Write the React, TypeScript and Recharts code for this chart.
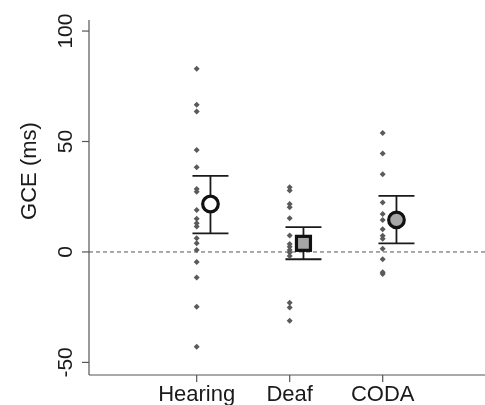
import {
  ScatterChart,
  Scatter,
  XAxis,
  YAxis,
  ReferenceLine,
  ErrorBar,
} from "recharts";

const categories = ["Hearing", "Deaf", "CODA"];

const hearingScores = [
  82.9, 66.6, 63.6, 46.2, 38.3, 28.5, 27.2, 19.0, 15.0, 13.0, 11.5, 6.2, 3.9,
  0.9, -4.6, -11.6, -24.8, -42.9,
];
const deafScores = [
  29.3, 27.8, 21.7, 20.2, 15.3, 7.4, 3.6, 2.4, 0.9, -0.3, -1.8, -23.0, -25.1,
  -31.1,
];
const codaScores = [
  53.8, 44.6, 35.2, 22.4, 17.2, 14.5, 10.3, 7.3, 6.0, 1.4, -3.3, -9.2, -10.0,
];

const means = [21.7, 3.9, 14.5];
const ciLow = [8.4, -3.3, 3.9];
const ciHigh = [34.4, 11.2, 25.4];

const yTicks = [-50, 0, 50, 100];

const MEAN_SHIFT = 0.148;
const FONT = "'Liberation Sans', Arial, sans-serif";

const allScores = [hearingScores, deafScores, codaScores];

const pointData = allScores.flatMap((scores, i) =>
  scores.map((v) => ({ x: i + 1, y: v }))
);

const meanData = categories.map((name, i) => ({
  name,
  x: i + 1 + MEAN_SHIFT,
  y: means[i],
  err: [means[i] - ciLow[i], ciHigh[i] - means[i]],
}));

const Diamond = (props: any) => {
  const { cx, cy } = props;
  const r = 3;
  return (
    <path
      d={`M${cx},${cy - r}L${cx + r},${cy}L${cx},${cy + r}L${cx - r},${cy}Z`}
      fill="#5a5a5a"
    />
  );
};

const MeanMarker = (props: any) => {
  const { cx, cy, payload } = props;
  if (payload.name === "Deaf") {
    return (
      <rect
        x={cx - 7}
        y={cy - 7}
        width={14}
        height={14}
        fill="#a6a6a6"
        stroke="#111"
        strokeWidth={3.2}
      />
    );
  }
  return (
    <circle
      cx={cx}
      cy={cy}
      r={7.8}
      fill={payload.name === "Hearing" ? "#ffffff" : "#a6a6a6"}
      stroke="#111"
      strokeWidth={3.2}
    />
  );
};

const Nothing = () => <g />;

const XTick = (props: any) => {
  const { x, y, payload } = props;
  return (
    <text
      x={x}
      y={y + 17}
      textAnchor="middle"
      fontSize={22}
      fontFamily={FONT}
      fill="#1a1a1a"
    >
      {categories[payload.value - 1]}
    </text>
  );
};

const YTick = (props: any) => {
  const { x, y, payload } = props;
  return (
    <text
      x={x}
      y={y}
      transform={`rotate(-90, ${x}, ${y})`}
      textAnchor="middle"
      fontSize={21}
      fontFamily={FONT}
      fill="#1a1a1a"
    >
      {payload.value}
    </text>
  );
};

const YLabel = () => (
  <text
    x={28}
    y={163}
    transform="rotate(-90, 28, 163)"
    textAnchor="middle"
    fontSize={22}
    fontFamily={FONT}
    fill="#1a1a1a"
  >
    GCE (ms)
  </text>
);

export default function App() {
  return (
    <div style={{ position: "fixed", left: 8, top: 8 }}>
      <ScatterChart
        width={477}
        height={397}
        margin={{ top: 12, right: 0, bottom: 0, left: 0 }}
      >
        <XAxis
          type="number"
          dataKey="x"
          domain={[-0.158, 4.1]}
          ticks={[1, 2, 3]}
          height={30}
          tickSize={7}
          tickMargin={2}
          tick={<XTick />}
          stroke="#555"
          strokeWidth={1.2}
          allowDataOverflow
        />
        <YAxis
          type="number"
          dataKey="y"
          domain={[-55.7, 105]}
          ticks={yTicks}
          width={81}
          tickSize={7}
          tickMargin={10}
          tick={<YTick />}
          stroke="#555"
          strokeWidth={1.2}
          label={{ content: <YLabel /> }}
          allowDataOverflow
        />
        <ReferenceLine y={0} stroke="#555" strokeDasharray="4 3" />
        <Scatter data={pointData} shape={<Diamond />} isAnimationActive={false} />
        <Scatter data={meanData} shape={<Nothing />} isAnimationActive={false}>
          <ErrorBar
            dataKey="err"
            direction="y"
            width={18}
            stroke="#1a1a1a"
            strokeWidth={1.8}
          />
        </Scatter>
        <Scatter data={meanData} shape={<MeanMarker />} isAnimationActive={false} />
      </ScatterChart>
    </div>
  );
}
